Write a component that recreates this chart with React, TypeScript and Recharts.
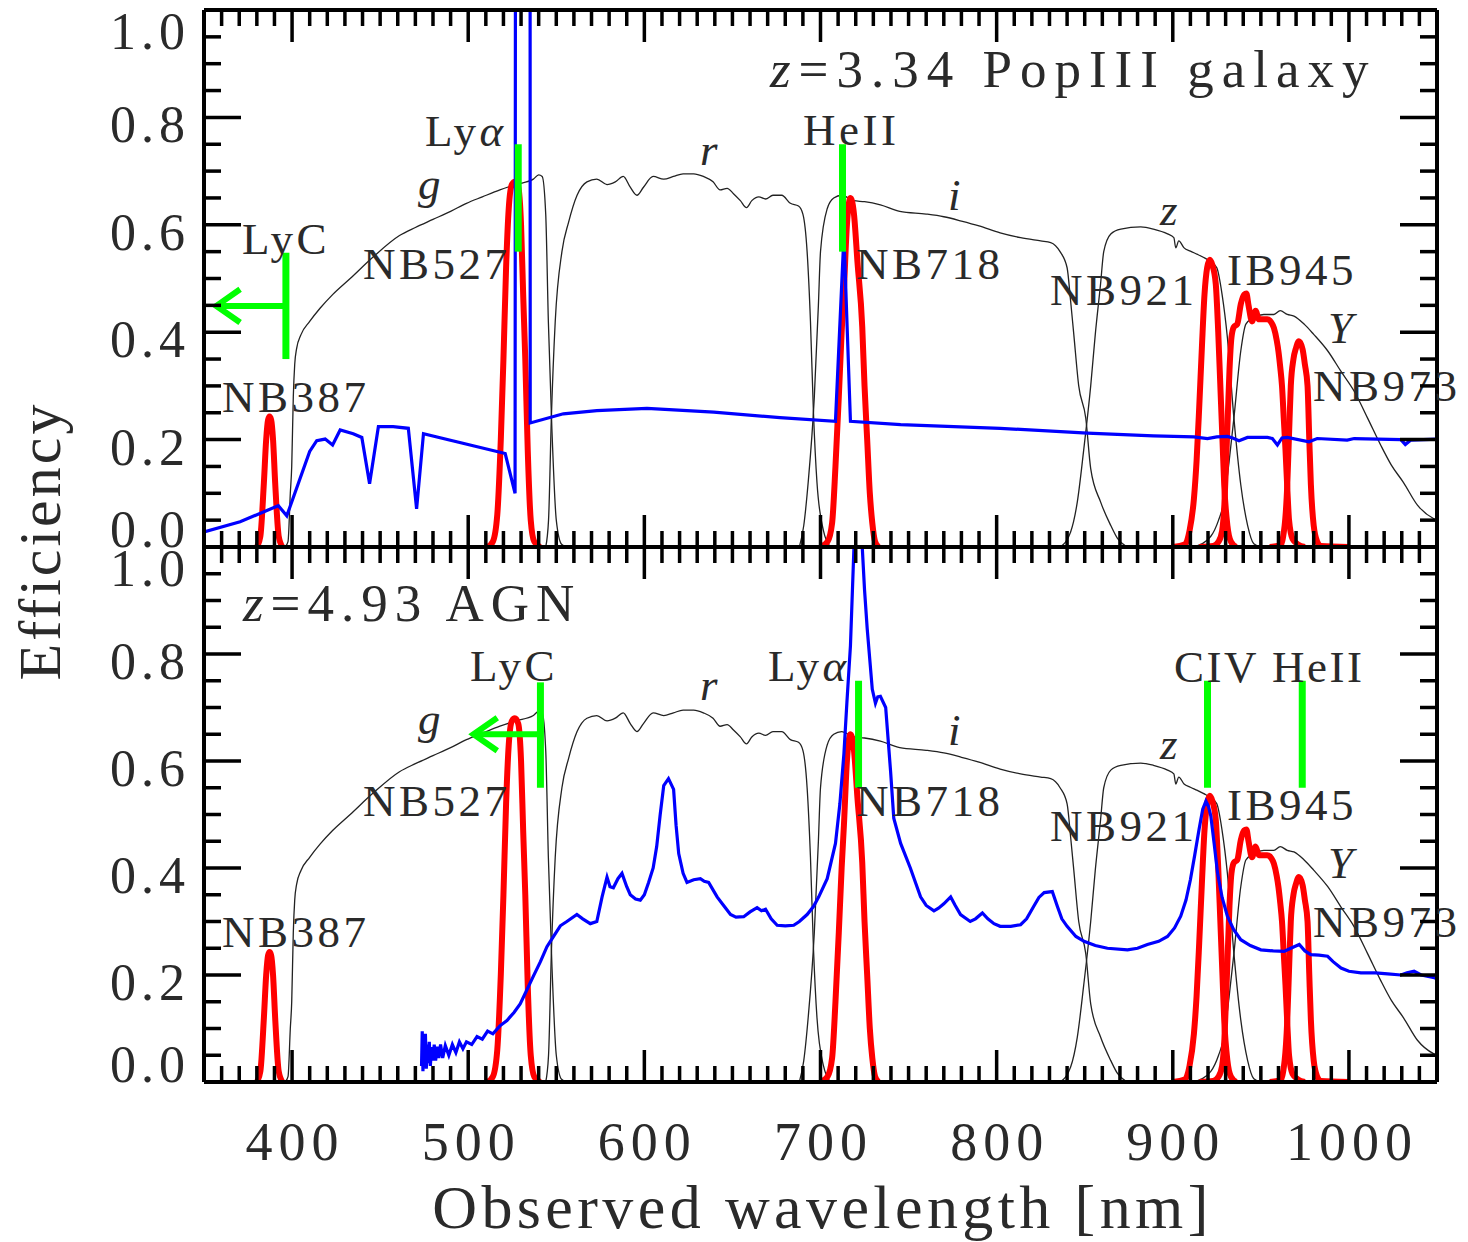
import React from "react";
import { LineChart, Line, XAxis, YAxis, ReferenceDot } from "recharts";

type Pt = [number, number];

const FONT = "'Liberation Serif', 'Times New Roman', serif";
const INK = "#2a2a2a";

// axis ticks (nm / efficiency)
const X_MAJOR = [400, 500, 600, 700, 800, 900, 1000];
const X_TICKS = Array.from({ length: 71 }, (_, i) => 350 + i * 10);
const Y_TICKS = Array.from({ length: 21 }, (_, i) => (i * 5) / 100);
const Y_LABELS = ["0.0", "0.2", "0.4", "0.6", "0.8", "1.0"];

// broad-band filter curves (black)
const G_BAND: Pt[] = [
  [396, 0], [397.7, 0.01], [399, 0.1], [399.8, 0.15], [400.7, 0.28], [401.5, 0.34], [402.6, 0.37], [405, 0.395],
  [410, 0.42], [416, 0.445], [423, 0.47], [433, 0.5], [446, 0.54], [461, 0.58], [470, 0.595], [480, 0.61],
  [490, 0.625], [499, 0.64], [508, 0.652], [518, 0.665], [527, 0.675], [537, 0.685], [540, 0.693], [542, 0.69],
  [544, 0.62], [545.5, 0.42], [547.5, 0.22], [550, 0.05], [553, 0.005], [556, 0],
];
const R_BAND: Pt[] = [
  [544, 0], [545.6, 0.05], [547.2, 0.24], [549.4, 0.42], [553.2, 0.55], [557, 0.605], [561.8, 0.655], [567.4, 0.68],
  [573, 0.685], [578.8, 0.675], [583.5, 0.68], [588, 0.69], [592, 0.67], [595.8, 0.655], [599.5, 0.67], [605, 0.69],
  [611, 0.685], [616.5, 0.69], [622, 0.695], [628, 0.695], [633.5, 0.69], [639, 0.68], [643, 0.665], [647, 0.668],
  [650.6, 0.658], [654.5, 0.645], [658, 0.632], [661, 0.645], [665, 0.652], [668.8, 0.648], [673, 0.655], [678, 0.655],
  [682.9, 0.64], [687.5, 0.635], [690, 0.62], [692.4, 0.55], [694.3, 0.42], [696, 0.25], [698, 0.12], [701.7, 0.03],
  [705.7, 0],
];
const I_BAND: Pt[] = [
  [688, 0], [690.5, 0.04], [693, 0.12], [696.5, 0.28], [698.8, 0.45], [700, 0.55], [703.8, 0.63], [707.5, 0.65],
  [712, 0.655], [718.8, 0.645], [725, 0.643], [734, 0.637], [745, 0.625], [760, 0.62], [770, 0.615], [780, 0.607],
  [790, 0.598], [802, 0.585], [813.6, 0.576], [825, 0.57], [830.7, 0.567], [836, 0.55], [840, 0.52], [842, 0.458],
  [843.8, 0.396], [846.6, 0.3], [850.6, 0.24], [853.4, 0.146], [859, 0.084], [864.8, 0.04], [868.6, 0.016], [874, 0],
];
const Z_BAND: Pt[] = [
  [836, 0], [842, 0.028], [845.8, 0.084], [849.4, 0.18], [853.4, 0.3], [856, 0.396], [859, 0.49], [860.8, 0.55],
  [864.8, 0.583], [870.5, 0.592], [881.8, 0.596], [889, 0.592], [897, 0.583], [900.6, 0.576], [901.7, 0.557],
  [903.4, 0.57], [906.4, 0.557], [910, 0.551], [914, 0.545], [917.6, 0.539], [922, 0.53], [925, 0.52], [928, 0.47],
  [931, 0.39], [934.7, 0.24], [938.6, 0.116], [942.5, 0.04], [946, 0.006], [950, 0],
];
const Y_BAND: Pt[] = [
  [912, 0], [921.6, 0.02], [926, 0.05], [929, 0.084], [932, 0.16], [934.7, 0.24], [938.6, 0.365], [941.5, 0.415],
  [946, 0.427], [951.7, 0.433], [957.4, 0.433], [961, 0.44], [965, 0.433], [968.8, 0.43], [974.6, 0.415], [980, 0.396],
  [988, 0.365], [995.5, 0.327], [1003, 0.29], [1010.6, 0.24], [1018, 0.19], [1024, 0.153], [1031, 0.12],
  [1038.9, 0.078], [1048, 0.053], [1050, 0.05],
];

// narrow / intermediate band filters (red)
const NB387: Pt[] = [
  [380, 0], [382, 0.02], [384, 0.12], [385.3, 0.2], [386.4, 0.237], [387.2, 0.243], [388.1, 0.237], [389.2, 0.2],
  [390.4, 0.12], [392.4, 0.02], [394.5, 0],
];
const NB527: Pt[] = [
  [511, 0], [514, 0.01], [516.5, 0.06], [518.5, 0.2], [520, 0.35], [521.5, 0.52], [523, 0.63], [524.8, 0.675],
  [526.5, 0.68], [528.4, 0.67], [530, 0.6], [531.2, 0.47], [532.4, 0.35], [533.8, 0.18], [535.5, 0.05], [537.5, 0.01],
  [541, 0],
];
const NB718: Pt[] = [
  [700, 0], [704, 0.01], [706.6, 0.045], [708.5, 0.15], [710.4, 0.28], [712, 0.4], [713.3, 0.48], [715, 0.6],
  [717, 0.65], [719, 0.62], [721, 0.53], [723.7, 0.41], [725, 0.3], [726.5, 0.2], [728, 0.1], [729.4, 0.045],
  [731, 0.01], [733, 0],
];
const NB921: Pt[] = [
  [900, 0], [907, 0.005], [909.5, 0.03], [912, 0.09], [913.5, 0.16], [915, 0.26], [916.5, 0.37], [918, 0.47],
  [919.5, 0.52], [921, 0.535], [922.5, 0.525], [924.4, 0.49], [925.8, 0.4], [927, 0.3], [928.2, 0.2], [929.2, 0.116],
  [931, 0.04], [933, 0.01], [936, 0],
];
const IB945: Pt[] = [
  [915, 0], [923, 0.002], [926, 0.01], [928, 0.03], [929.3, 0.08], [930.3, 0.16], [931.3, 0.25], [932.2, 0.33],
  [933.3, 0.39], [934.7, 0.41], [936.6, 0.415], [938.6, 0.452], [940.5, 0.47], [941.8, 0.472], [943, 0.45],
  [945, 0.42], [947, 0.44], [948.9, 0.424], [953.6, 0.424], [956, 0.418], [957.4, 0.408], [959, 0.385], [960, 0.364],
  [961, 0.335], [962, 0.3], [963, 0.24], [964, 0.18], [965, 0.11], [966, 0.05], [968, 0.015], [971, 0.005], [975, 0],
];
const NB973: Pt[] = [
  [955, 0], [961, 0.003], [963.5, 0.04], [965, 0.116], [966, 0.21], [967, 0.3], [968.5, 0.35], [969.9, 0.37],
  [971.6, 0.383], [973.7, 0.368], [975, 0.34], [976.5, 0.3], [977.5, 0.2], [978.4, 0.116], [980, 0.04], [982, 0.01],
  [984, 0.002], [1000, 0],
];

// model spectra (blue)
const POP3_SPECTRUM: Pt[] = [
  [350, 0.028], [370.5, 0.047], [392.2, 0.077], [397, 0.058], [410, 0.178], [414, 0.198], [418.8, 0.201],
  [423, 0.19], [427.3, 0.218], [434.7, 0.211], [439.6, 0.204], [444, 0.118], [449, 0.224], [457.4, 0.224],
  [466, 0.221], [470.7, 0.071], [474.6, 0.211], [521, 0.174], [526.6, 0.1], [527.2, 3], [535, 3], [535.2, 0.231],
  [554, 0.248], [573, 0.254], [601.5, 0.258], [639.4, 0.251], [677, 0.241], [708.5, 0.234], [713.3, 0.58],
  [717, 0.234], [745.5, 0.228], [802, 0.221], [851.5, 0.212], [889, 0.207], [912, 0.205], [919.7, 0.202],
  [925, 0.205], [931, 0.206], [934, 0.203], [937.6, 0.198], [942.4, 0.204], [953.7, 0.204], [956.5, 0.202],
  [959.4, 0.19], [962, 0.203], [965, 0.204], [977.3, 0.196], [982, 0.202], [999, 0.199], [1003, 0.202],
  [1029.5, 0.2], [1032, 0.191], [1035, 0.199], [1050, 0.201],
];
const AGN_SPECTRUM: Pt[] = [
  [473.5, 0.03], [473.9, 0.095], [474.3, 0.02], [474.8, 0.085], [475.2, 0.03], [475.7, 0.09], [476.2, 0.025],
  [476.8, 0.07], [477.3, 0.035], [477.9, 0.075], [478.5, 0.03], [479.2, 0.065], [479.9, 0.04], [480.7, 0.07],
  [481.5, 0.04], [482.4, 0.066], [483.3, 0.045], [484.3, 0.07], [485.5, 0.045], [487, 0.068], [489, 0.05],
  [491, 0.07], [493, 0.055], [495, 0.075], [497, 0.062], [499, 0.075], [502, 0.07], [505, 0.085], [508, 0.08],
  [511, 0.095], [514, 0.09], [518, 0.105], [522, 0.115], [526, 0.13], [529.5, 0.146], [533, 0.17], [537, 0.198],
  [541, 0.225], [544.7, 0.253], [548, 0.27], [552.3, 0.292], [556, 0.3], [561.7, 0.313], [565, 0.305],
  [569.3, 0.296], [573, 0.3], [576, 0.346], [578.8, 0.383], [580.5, 0.365], [582.4, 0.363], [585, 0.38],
  [587.3, 0.39], [590, 0.365], [592, 0.35], [595, 0.342], [597.7, 0.34], [600, 0.35], [602.4, 0.373], [605, 0.4],
  [607, 0.44], [609, 0.5], [611, 0.554], [613.7, 0.567], [616.6, 0.547], [618, 0.48], [619.5, 0.427], [622, 0.39],
  [624.2, 0.373], [628, 0.378], [631.8, 0.38], [634, 0.375], [636.5, 0.373], [641.3, 0.346], [645, 0.33],
  [648.9, 0.313], [652, 0.308], [656.4, 0.309], [660, 0.318], [664, 0.326], [666.5, 0.32], [668.8, 0.323],
  [672, 0.305], [675.4, 0.293], [680, 0.292], [684.8, 0.293], [688, 0.3], [692.4, 0.313], [696, 0.328],
  [699, 0.346], [703.8, 0.38], [708.5, 0.446], [711, 0.52], [713.3, 0.614], [715, 0.71], [717, 0.815], [719, 1.0],
  [720.5, 1.3], [722, 1.3], [723.7, 1.0], [725, 0.92], [726.5, 0.848], [729.4, 0.734], [731.2, 0.708],
  [732.5, 0.72], [734, 0.721], [737, 0.7], [739.8, 0.58], [741.6, 0.493], [745.5, 0.446], [751, 0.4],
  [756.8, 0.346], [760, 0.33], [764.4, 0.32], [767, 0.325], [770, 0.333], [773.9, 0.346], [776.5, 0.33],
  [779.5, 0.313], [785, 0.3], [788, 0.305], [791.9, 0.316], [795, 0.305], [798.5, 0.296], [802, 0.291],
  [808, 0.291], [813.6, 0.294], [817, 0.305], [821, 0.328], [824, 0.345], [827, 0.354], [831.6, 0.356],
  [834.5, 0.328], [837, 0.305], [840, 0.291], [845, 0.272], [849.6, 0.263], [856, 0.255], [862.9, 0.25],
  [874.3, 0.247], [880, 0.25], [885.6, 0.257], [892, 0.263], [897, 0.272], [901, 0.288], [904.5, 0.31],
  [907.5, 0.34], [910, 0.378], [912.5, 0.425], [914.9, 0.472], [917, 0.51], [918.8, 0.525], [920.3, 0.515],
  [921.6, 0.497], [923.5, 0.445], [925.4, 0.391], [928, 0.345], [931, 0.31], [934.5, 0.285], [938.6, 0.266],
  [944, 0.255], [950, 0.247], [957, 0.245], [963.2, 0.244], [967, 0.25], [971.8, 0.257], [975, 0.245],
  [978.4, 0.238], [983, 0.237], [987.9, 0.235], [991, 0.225], [995.5, 0.213], [1000, 0.207], [1006.8, 0.204],
  [1015, 0.204], [1022, 0.202], [1029.5, 0.2], [1033, 0.204], [1037, 0.207], [1041, 0.2], [1048.5, 0.195],
  [1050, 0.193],
];

// emission line markers (green), nm
const TOP_LINE_NM = [528.4, 712.5];
const BOTTOM_LINE_NM = [721.6, 919.7, 973.5];
const LINE_MARK_RANGE: Pt = [0.55, 0.75];
// Lyman continuum edge: [edge nm, bar low, bar high, arrow level, arrow tip nm]
const TOP_LYC = [396.5, 0.35, 0.548, 0.449, 357];
const BOTTOM_LYC = [541, 0.55, 0.747, 0.65, 503];

type Note = { x: number; y: number; pre?: string; it?: string; post?: string; size?: number; ls?: number };

const TOP_NOTES: Note[] = [
  { x: 671.3, y: 0.856, it: "z", post: "=3.34 PopIII galaxy", size: 53, ls: 8 },
  { x: 475.5, y: 0.747, pre: "Ly", it: "α" },
  { x: 690.1, y: 0.749, pre: "HeII" },
  { x: 631.6, y: 0.711, it: "r" },
  { x: 471.5, y: 0.648, it: "g" },
  { x: 772.4, y: 0.628, it: "i" },
  { x: 892.7, y: 0.599, it: "z" },
  { x: 988.1, y: 0.38, it: "Y" },
  { x: 371.6, y: 0.546, pre: "LyC" },
  { x: 440.3, y: 0.5, pre: "NB527" },
  { x: 720.2, y: 0.5, pre: "NB718" },
  { x: 830.3, y: 0.451, pre: "NB921" },
  { x: 930.8, y: 0.488, pre: "IB945" },
  { x: 979.6, y: 0.271, pre: "NB973" },
  { x: 360.2, y: 0.251, pre: "NB387" },
];
const BOTTOM_NOTES: Note[] = [
  { x: 372.1, y: 0.861, it: "z", post: "=4.93 AGN", size: 53, ls: 7 },
  { x: 501, y: 0.749, pre: "LyC" },
  { x: 471.5, y: 0.65, it: "g" },
  { x: 631.6, y: 0.714, it: "r" },
  { x: 670.2, y: 0.749, pre: "Ly", it: "α" },
  { x: 772.4, y: 0.63, it: "i" },
  { x: 892.7, y: 0.603, it: "z" },
  { x: 900.7, y: 0.748, pre: "CIV HeII", ls: 2.5 },
  { x: 440.3, y: 0.498, pre: "NB527" },
  { x: 720.2, y: 0.498, pre: "NB718" },
  { x: 830.3, y: 0.451, pre: "NB921" },
  { x: 930.8, y: 0.49, pre: "IB945" },
  { x: 988.1, y: 0.382, it: "Y" },
  { x: 979.6, y: 0.271, pre: "NB973" },
  { x: 360.2, y: 0.253, pre: "NB387" },
];

const BROAD = [G_BAND, R_BAND, I_BAND, Z_BAND, Y_BAND];
const NARROW = [NB387, NB527, NB718, NB921, IB945, NB973];

const toPts = (arr: Pt[]) => arr.map(([x, y]) => ({ x, y }));

function NoteText(props: any) {
  const { cx, cy, note } = props;
  const n: Note = note;
  return (
    <text x={cx} y={cy} fontFamily={FONT} fontSize={n.size ?? 45} letterSpacing={n.ls ?? 3.5} fill={INK}>
      {n.pre}
      {n.it && <tspan fontStyle="italic">{n.it}</tspan>}
      {n.post}
    </text>
  );
}

const xTick = (side: "top" | "bottom", showLabel: boolean) => (p: any) => {
  const v = p.payload.value;
  const major = X_MAJOR.includes(v);
  const len = major ? 32 : 16;
  const dir = side === "bottom" ? -1 : 1;
  return (
    <g>
      <line x1={p.x} y1={p.y} x2={p.x} y2={p.y + dir * len} stroke="#000" strokeWidth={3.5} />
      {showLabel && major && (
        <text x={p.x + 3} y={p.y + 78} textAnchor="middle" fontFamily={FONT} fontSize={54} letterSpacing={6} fill={INK}>
          {v}
        </text>
      )}
    </g>
  );
};

const yTick = (side: "left" | "right", showLabel: boolean) => (p: any) => {
  const v = p.payload.value;
  const k = Math.round(v * 100);
  const major = k % 20 === 0;
  const len = major ? 37 : 17;
  const dir = side === "left" ? 1 : -1;
  let dy = 7;
  if (k === 100) dy = 21;
  if (k === 0) dy = -18;
  return (
    <g>
      <line x1={p.x} y1={p.y} x2={p.x + dir * len} y2={p.y} stroke="#000" strokeWidth={3.5} />
      {showLabel && major && (
        <text x={p.x - 14} y={p.y + dy + 18} textAnchor="end" fontFamily={FONT} fontSize={52} letterSpacing={5} fill={INK}>
          {Y_LABELS[k / 20]}
        </text>
      )}
    </g>
  );
};

function EffTitle(props: any) {
  const vb = props.viewBox || { x: 0, y: 547 };
  const cx = vb.x + 60;
  const cy = vb.y - 6;
  return (
    <text x={cx} y={cy} transform={`rotate(-90 ${cx} ${cy})`} textAnchor="middle" fontFamily={FONT} fontSize={60} letterSpacing={3} fill={INK}>
      Efficiency
    </text>
  );
}

function XTitle(props: any) {
  const vb = props.viewBox || { x: 204, y: 1082, width: 1233 };
  const cx = vb.x + vb.width / 2 + 2;
  return (
    <text x={cx} y={vb.y + 146} textAnchor="middle" fontFamily={FONT} fontSize={62} letterSpacing={4.4} fill={INK}>
      Observed wavelength [nm]
    </text>
  );
}

function Panel({ top }: { top: boolean }) {
  const margin = top ? { top: 9, right: 30, bottom: 694, left: 0 } : { top: 546, right: 30, bottom: 0, left: 0 };
  const spectrum = top ? POP3_SPECTRUM : AGN_SPECTRUM;
  const notes = top ? TOP_NOTES : BOTTOM_NOTES;
  const lineNm = top ? TOP_LINE_NM : BOTTOM_LINE_NM;
  const [edge, lo, hi, ay, tip] = top ? TOP_LYC : BOTTOM_LYC;
  const head = 13.5;
  const common = { xAxisId: "b", yAxisId: "l", dataKey: "y", dot: false, activeDot: false, isAnimationActive: false } as const;
  const axisLine = { stroke: "#000", strokeWidth: 4 };

  return (
    <LineChart width={1468} height={1242} margin={margin}>
      <XAxis xAxisId="b" orientation="bottom" dataKey="x" type="number" domain={[350, 1050]} allowDataOverflow
        ticks={X_TICKS} interval={0} height={top ? 1 : 160} tickSize={0} tickMargin={0} tickLine={false}
        axisLine={axisLine} tick={xTick("bottom", !top)} label={top ? undefined : <XTitle />} />
      <XAxis xAxisId="t" orientation="top" dataKey="x" type="number" domain={[350, 1050]} allowDataOverflow
        ticks={X_TICKS} interval={0} height={1} tickSize={0} tickMargin={0} tickLine={false}
        axisLine={axisLine} tick={xTick("top", false)} />
      <YAxis yAxisId="l" orientation="left" type="number" domain={[0, 1]} allowDataOverflow ticks={Y_TICKS}
        interval={0} width={204} tickSize={0} tickMargin={0} tickLine={false} axisLine={axisLine}
        tick={yTick("left", true)} label={top ? undefined : <EffTitle />} />
      <YAxis yAxisId="r" orientation="right" type="number" domain={[0, 1]} allowDataOverflow ticks={Y_TICKS}
        interval={0} width={1} tickSize={0} tickMargin={0} tickLine={false} axisLine={axisLine}
        tick={yTick("right", false)} />

      {BROAD.map((f, i) => (
        <Line key={`bb${i}`} {...common} data={toPts(f)} type="monotone" stroke="#222" strokeWidth={1.3} />
      ))}
      {NARROW.map((f, i) => (
        <Line key={`nb${i}`} {...common} data={toPts(f)} type="monotone" stroke="#ff0000" strokeWidth={6} />
      ))}
      <Line {...common} data={toPts(spectrum)} type="linear" stroke="#0000ff" strokeWidth={3.2} />

      {lineNm.map((nm, i) => (
        <Line key={`em${i}`} {...common} data={toPts([[nm, LINE_MARK_RANGE[0]], [nm, LINE_MARK_RANGE[1]]])}
          type="linear" stroke="#00ff00" strokeWidth={7} />
      ))}
      <Line {...common} data={toPts([[edge, lo], [edge, hi]])} type="linear" stroke="#00ff00" strokeWidth={7} />
      <Line {...common} data={toPts([[edge, ay], [tip, ay]])} type="linear" stroke="#00ff00" strokeWidth={6} />
      <Line {...common} data={toPts([[tip + head, ay + 0.031], [tip, ay], [tip + head, ay - 0.031]])}
        type="linear" stroke="#00ff00" strokeWidth={6} />

      {notes.map((n, i) => (
        <ReferenceDot key={`n${i}`} xAxisId="b" yAxisId="l" x={n.x} y={n.y} r={0} ifOverflow="visible"
          shape={(p: any) => <NoteText {...p} note={n} />} />
      ))}
    </LineChart>
  );
}

export default function App() {
  return (
    <div style={{ position: "absolute", left: 0, top: 0, width: 1468, height: 1242, background: "#fff" }}>
      <div style={{ position: "absolute", left: 0, top: 0 }}>
        <Panel top={false} />
      </div>
      <div style={{ position: "absolute", left: 0, top: 0 }}>
        <Panel top />
      </div>
    </div>
  );
}
